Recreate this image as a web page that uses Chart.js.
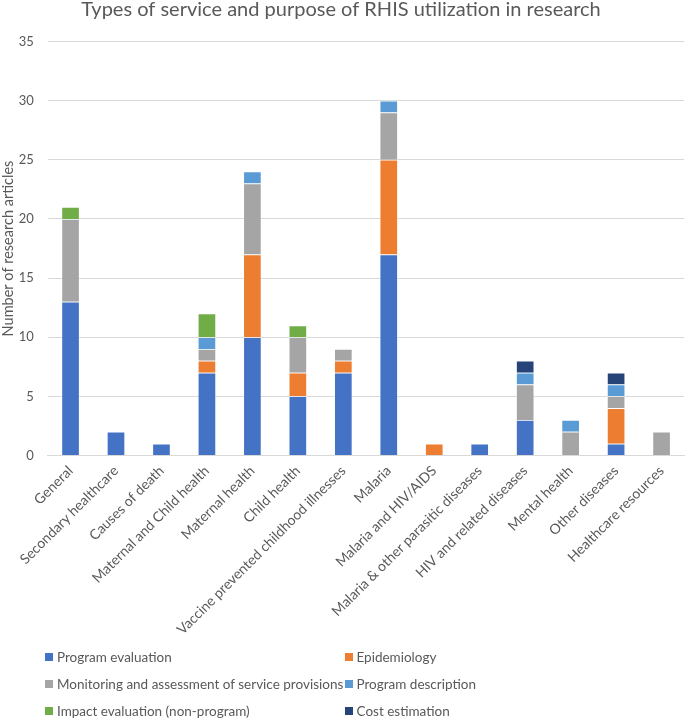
<!DOCTYPE html>
<html>
<head>
<meta charset="utf-8">
<script src="https://cdn.jsdelivr.net/npm/chart.js@4.4.0/dist/chart.umd.min.js"></script>
<style>
  html, body { margin: 0; padding: 0; background: #fff; }
  #wrap { position: relative; width: 685px; height: 718px; }
  canvas { position: absolute; left: 0; top: 0; }
  .lg { position: absolute; font: 13.5px Lato, "Open Sans", sans-serif; color: #595959; white-space: nowrap; line-height: 16px; height: 16px; }
  .lg i { position: absolute; left: 0; top: 4px; width: 8px; height: 8px; }
  .lg span { position: absolute; left: 12px; top: 0; }
</style>
</head>
<body>
<div id="wrap">
  <canvas id="c" width="685" height="718"></canvas>
  <div id="legend"></div>
</div>
<script>
const categories = ["General", "Secondary healthcare", "Causes of death", "Maternal and Child health",
  "Maternal health", "Child health", "Vaccine prevented childhood illnesses", "Malaria",
  "Malaria and HIV/AIDS", "Malaria & other parasitic diseases", "HIV and related diseases",
  "Mental health", "Other diseases", "Healthcare resources"];

const programEvaluation   = [13, 2, 1, 7, 10, 5, 7, 17, null, 1, 3, null, 1, null];
const epidemiology        = [null, null, null, 1, 7, 2, 1, 8, 1, null, null, null, 3, null];
const monitoring          = [7, null, null, 1, 6, 3, 1, 4, null, null, 3, 2, 1, 2];
const programDescription  = [null, null, null, 1, 1, null, null, 1, null, null, 1, 1, 1, null];
const impactEvaluation    = [1, null, null, 2, null, 1, null, null, null, null, null, null, null, null];
const costEstimation      = [null, null, null, null, null, null, null, null, null, null, 1, null, 1, null];

const yTicks = [0, 5, 10, 15, 20, 25, 30, 35];

const seriesNames = ["Program evaluation", "Epidemiology", "Monitoring and assessment of service provisions",
  "Program description", "Impact evaluation (non-program)", "Cost estimation"];
const seriesColors = ["#4472C4", "#ED7D31", "#A5A5A5", "#5B9BD5", "#70AD47", "#264478"];
const seriesData = [programEvaluation, epidemiology, monitoring, programDescription, impactEvaluation, costEstimation];

const FONT = "Lato, 'Open Sans', sans-serif";
const GREY = "#595959";

const titlePlugin = {
  id: 'customTitle',
  afterDraw(chart) {
    const ctx = chart.ctx;
    ctx.save();
    ctx.font = "20px " + FONT;
    ctx.fillStyle = GREY;
    ctx.textAlign = "center";
    ctx.textBaseline = "middle";
    ctx.fillText("Types of service and purpose of RHIS utilization in research", 341, 10);
    ctx.restore();
  }
};

new Chart(document.getElementById('c'), {
  type: 'bar',
  data: {
    labels: categories,
    datasets: seriesData.map((d, i) => ({
      label: seriesNames[i],
      data: d,
      backgroundColor: seriesColors[i],
      borderColor: "rgba(255,255,255,0.7)",
      borderWidth: 0.75,
      barPercentage: 0.4,
      categoryPercentage: 1.0
    }))
  },
  options: {
    responsive: false,
    animation: false,
    layout: { padding: { top: 41.5, right: 0.7, bottom: 0, left: 0 } },
    plugins: {
      legend: { display: false },
      title: { display: false },
      tooltip: { enabled: false }
    },
    scales: {
      x: {
        stacked: true,
        grid: { display: false, drawTicks: false },
        border: { color: "#D9D9D9", width: 1 },
        ticks: {
          font: { family: FONT, size: 14 },
          color: GREY,
          minRotation: 45,
          maxRotation: 45,
          autoSkip: false,
          padding: 7
        },
        afterFit(scale) { scale.height = 262.5; }
      },
      y: {
        stacked: true,
        min: 0,
        max: 35,
        afterBuildTicks(scale) { scale.ticks = yTicks.map(v => ({ value: v })); },
        grid: { color: "#D9D9D9", drawTicks: false },
        border: { display: false },
        ticks: {
          font: { family: FONT, size: 13 },
          color: GREY,
          padding: 14
        },
        title: {
          display: true,
          text: "Number of research articles",
          font: { family: FONT, size: 14.5 },
          color: GREY,
          padding: 0
        },
        afterFit(scale) { scale.width = 47.8; }
      }
    }
  },
  plugins: [titlePlugin]
});

// legend (two columns, like the original)
const legendPos = [[45, 657], [344.5, 657], [45, 684], [344.5, 684], [45, 711], [344.5, 711]];
const lg = document.getElementById('legend');
seriesNames.forEach((n, i) => {
  const d = document.createElement('div');
  d.className = 'lg';
  d.style.left = legendPos[i][0] + 'px';
  d.style.top = (legendPos[i][1] - 8) + 'px';
  d.innerHTML = '<i style="background:' + seriesColors[i] + '"></i><span>' + n + '</span>';
  lg.appendChild(d);
});
</script>
</body>
</html>
